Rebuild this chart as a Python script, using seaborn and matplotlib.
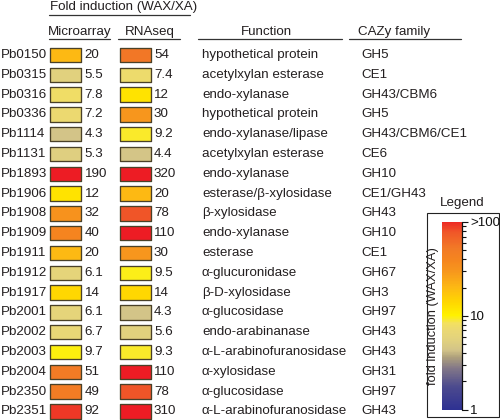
import numpy as np
import pandas as pd
import matplotlib
matplotlib.use("Agg")
import matplotlib.pyplot as plt
import seaborn as sns
from matplotlib.colors import LinearSegmentedColormap, LogNorm
from matplotlib.path import Path
from matplotlib.patches import Rectangle
from matplotlib.lines import Line2D

# ---------------- data ----------------
genes = ["Pb0150", "Pb0315", "Pb0316", "Pb0336", "Pb1114", "Pb1131", "Pb1893",
         "Pb1906", "Pb1908", "Pb1909", "Pb1911", "Pb1912", "Pb1917", "Pb2001",
         "Pb2002", "Pb2003", "Pb2004", "Pb2350", "Pb2351"]
microarray = [20, 5.5, 7.8, 7.2, 4.3, 5.3, 190, 12, 32, 40, 20, 6.1, 14, 6.1,
              6.7, 9.7, 51, 49, 92]
rnaseq = [54, 7.4, 12, 30, 9.2, 4.4, 320, 20, 78, 110, 30, 9.5, 14, 4.3,
          5.6, 9.3, 110, 78, 310]
functions = ["hypothetical protein", "acetylxylan esterase", "endo-xylanase",
             "hypothetical protein", "endo-xylanase/lipase", "acetylxylan esterase",
             "endo-xylanase", "esterase/β-xylosidase", "β-xylosidase",
             "endo-xylanase", "esterase", "α-glucuronidase", "β-D-xylosidase",
             "α-glucosidase", "endo-arabinanase", "α-L-arabinofuranosidase",
             "α-xylosidase", "α-glucosidase", "α-L-arabinofuranosidase"]
cazy = ["GH5", "CE1", "GH43/CBM6", "GH5", "GH43/CBM6/CE1", "CE6", "GH10",
        "CE1/GH43", "GH43", "GH10", "CE1", "GH67", "GH3", "GH97", "GH43",
        "GH43", "GH31", "GH97", "GH43"]
assays = ["Microarray", "RNAseq"]
cbar_ticks = [1, 10, 100]
cbar_ticklabels = ["1", "10", ">100"]

# ---------------- style ----------------
sns.set_theme(style="white")
plt.rcParams["font.family"] = ["Liberation Sans", "DejaVu Sans"]
TXT = "#231f20"
FS = 9.6

cmap = LinearSegmentedColormap.from_list("fold", [
    (0.00, "#2e3192"), (0.12, "#4c4a8e"), (0.22, "#837888"),
    (0.28, "#b0a27c"), (0.317, "#d3c488"), (0.37, "#e1d17e"),
    (0.42, "#ead874"), (0.46, "#f3e060"), (0.50, "#fff200"),
    (0.57, "#ffd800"), (0.65, "#fdb913"), (0.74, "#f7961d"),
    (0.80, "#f5851f"), (0.86, "#f27a26"), (0.95, "#f05528"),
    (0.98, "#ee3c26"), (1.00, "#ed2a24")])
cmap.set_over("#ed1c24")
norm = LogNorm(vmin=1, vmax=100)

# long-form table
df = pd.DataFrame({
    "gene": genes * 2,
    "row": list(range(len(genes))) * 2,
    "assay": [assays[0]] * len(genes) + [assays[1]] * len(genes),
    "value": microarray + rnaseq,
})
col_x = {"Microarray": 65.3, "RNAseq": 135.6}   # layout: pixel centres
val_x = {"Microarray": 84.5, "RNAseq": 154.0}
df["x"] = df["assay"].map(col_x)

fig = plt.figure(figsize=(5, 4.2), dpi=100)
ax = fig.add_axes([0, 0, 1, 1])
ROW0, DY = 55.0, 19.8


def py(p):
    return (p - ROW0) / DY


# rectangle marker
h = 0.47
marker = Path([(-1, -h), (1, -h), (1, h), (-1, h), (-1, -h)],
              [Path.MOVETO, Path.LINETO, Path.LINETO, Path.LINETO, Path.CLOSEPOLY])
sns.scatterplot(data=df, x="x", y="row", hue="value", hue_norm=norm, palette=cmap,
                marker=marker, s=490, edgecolor="#4a4128", linewidth=0.95,
                legend=False, ax=ax, zorder=3)
ax.set_xlim(0, 500)
ax.set_ylim(py(420), py(0))
ax.axis("off")

# texts per row
for i, g in enumerate(genes):
    ax.text(1.0, i, g, ha="left", va="center", fontsize=FS, color=TXT)
    ax.text(val_x["Microarray"], i, f"{microarray[i]:g}", ha="left", va="center",
            fontsize=FS, color=TXT)
    ax.text(val_x["RNAseq"], i, f"{rnaseq[i]:g}", ha="left", va="center",
            fontsize=FS, color=TXT)
    ax.text(202, i, functions[i], ha="left", va="center", fontsize=FS, color=TXT)
    ax.text(361.5, i, cazy[i], ha="left", va="center", fontsize=FS, color=TXT)

# headers
ax.text(49.5, py(7.0), "Fold induction (WAX/XA)", ha="left", va="center",
        fontsize=FS, color=TXT)
ax.add_line(Line2D([49, 190], [py(15), py(15)], color="#333333", lw=0.9))
ax.text(79.5, py(31.7), "Microarray", ha="center", va="center", fontsize=FS, color=TXT)
ax.add_line(Line2D([49, 110], [py(39.3), py(39.3)], color="#333333", lw=0.9))
ax.text(149.5, py(31.7), "RNAseq", ha="center", va="center", fontsize=FS, color=TXT)
ax.add_line(Line2D([118, 180], [py(39.3), py(39.3)], color="#333333", lw=0.9))
ax.text(266, py(31.7), "Function", ha="center", va="center", fontsize=FS, color=TXT)
ax.add_line(Line2D([198, 342], [py(39.3), py(39.3)], color="#333333", lw=0.9))
ax.text(394.5, py(31.7), "CAZy family", ha="center", va="center", fontsize=FS, color=TXT)
ax.add_line(Line2D([349, 461], [py(39.3), py(39.3)], color="#333333", lw=0.9))

# legend box
fig.patches.append(Rectangle((426.7 / 500, (420 - 416.7) / 420), (499 - 426.7) / 500,
                             (416.7 - 213) / 420, transform=fig.transFigure,
                             fill=False, edgecolor="#222222", lw=0.8))
fig.text(462 / 500, 1 - 203 / 420, "Legend", ha="center", va="center",
         fontsize=FS, color=TXT)

cax = fig.add_axes([441.7 / 500, (420 - 409.5) / 420, 20 / 500, (409.5 - 222) / 420])
sm = plt.cm.ScalarMappable(norm=norm, cmap=cmap)
cb = fig.colorbar(sm, cax=cax)
cb.outline.set_visible(False)
cb.set_ticks(cbar_ticks)
cb.set_ticklabels(cbar_ticklabels)
cax.tick_params(which="major", direction="out", length=4.5, width=0.8,
                labelsize=FS, colors="#111111", pad=1.5, right=True)
cax.tick_params(which="minor", direction="out", length=3, width=0.8,
                colors="#111111", right=True)
cax.add_line(Line2D([1, 1], [0, 1], transform=cax.transAxes, color="#111111",
                    lw=0.9, clip_on=False))
cax.text(-0.43, 0.5, "fold induction (WAX/XA)", rotation=90, ha="center",
         va="center", transform=cax.transAxes, fontsize=FS - 0.3, color=TXT)

fig.savefig("out.png", dpi=100)
